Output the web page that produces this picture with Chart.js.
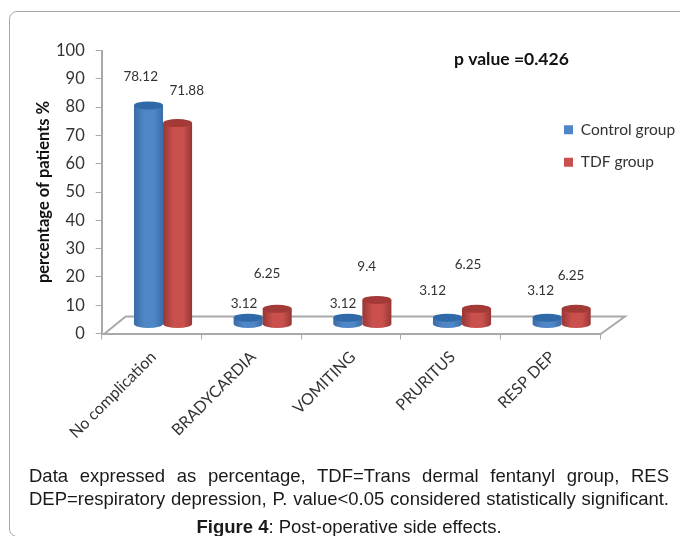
<!DOCTYPE html>
<html>
<head>
<meta charset="utf-8">
<script src="https://cdn.jsdelivr.net/npm/chart.js@4/dist/chart.umd.js"></script>
<style>
  html, body { margin: 0; padding: 0; background: #fff; overflow: hidden; }
  #wrap { position: relative; width: 680px; height: 536px; overflow: hidden; }
  #frame { position: absolute; left: 9px; top: 11px; width: 720px; height: 524px; border: 1px solid #a8a8a8; border-radius: 8px; }
  canvas { position: absolute; left: 0; top: 0; }
  .cap { position: absolute; left: 29px; width: 640px; font-family: "Liberation Sans", Arial, sans-serif; font-size: 18.5px; color: #1a1a1a; white-space: nowrap; }
  .just { text-align: justify; text-align-last: justify; white-space: normal; }
</style>
</head>
<body>
<div id="wrap">
  <div id="frame"></div>
  <canvas id="chart" width="680" height="536"></canvas>
  <div class="cap just" style="top:465px">Data expressed as percentage, TDF=Trans dermal fentanyl group, RES</div>
  <div class="cap just" style="top:488px">DEP=respiratory depression, P. value&lt;0.05 considered statistically significant.</div>
  <div class="cap" style="top:516px;text-align:center"><b>Figure 4</b>: Post-operative side effects.</div>
</div>
<script>
// data
const categories = ["No complication", "BRADYCARDIA", "VOMITING", "PRURITUS", "RESP DEP"];
const controlValues = [78.12, 3.12, 3.12, 3.12, 3.12];
const tdfValues = [71.88, 6.25, 9.4, 6.25, 6.25];
const seriesNames = ["Control group", "TDF group"];

// hand placed value labels in the original, offset from the top of each bar
const labelOffsets = [
  [[3.7, -35.5], [7.3, -21.5], [6.7, -21.5], [-3.3, -34.5], [5, -34.5]],
  [[20.7, -39], [1.3, -42.6], [1.4, -40.7], [3, -51.6], [6.3, -40.6]]
];

// bar colours: edge, middle, top cap
const barColors = [
  ["#3a6ca6", "#4f86c6", "#2f69a8"],
  ["#963735", "#c9504d", "#a33a37"]
];

const AXIS_GRAY = "#a9a9a9";
const TEXT_COLOR = "#333333";
const FONT = "Lato";

// fake 3d: bars sit on a floor behind the axis line
const SHIFT_X = 11.5, TOP_SHIFT = -7, BASE_SHIFT = -9, CAP_RY = 4;

function drawFloor(ctx, area) {
  ctx.save();
  ctx.strokeStyle = AXIS_GRAY;
  ctx.lineWidth = 2;
  ctx.beginPath();
  ctx.moveTo(area.left + 3, area.bottom);
  ctx.lineTo(area.left + 24, area.bottom - 17);
  ctx.lineTo(area.right + 25, area.bottom - 17);
  ctx.lineTo(area.right, area.bottom + 1);
  ctx.stroke();
  ctx.restore();
}

function drawCylinder(ctx, bar, colors) {
  const cx = bar.x + SHIFT_X;
  const rx = bar.width / 2;
  const top = bar.y + TOP_SHIFT;
  const base = bar.base + BASE_SHIFT;

  const grad = ctx.createLinearGradient(cx - rx, 0, cx + rx, 0);
  grad.addColorStop(0, colors[0]);
  grad.addColorStop(0.35, colors[1]);
  grad.addColorStop(0.7, colors[1]);
  grad.addColorStop(1, colors[0]);

  ctx.fillStyle = grad;
  ctx.beginPath();
  ctx.moveTo(cx - rx, top);
  ctx.lineTo(cx - rx, base);
  ctx.ellipse(cx, base, rx, CAP_RY, 0, Math.PI, 0, true);
  ctx.lineTo(cx + rx, top);
  ctx.closePath();
  ctx.fill();

  ctx.fillStyle = colors[2];
  ctx.beginPath();
  ctx.ellipse(cx, top, rx, CAP_RY, 0, 0, Math.PI * 2);
  ctx.fill();
}

// replaces the flat bars: floor first, then cylinders left to right so red overlaps blue
const cylinderPlugin = {
  id: "cylinders",
  beforeDatasetsDraw(chart) {
    const ctx = chart.ctx;
    drawFloor(ctx, chart.chartArea);
    categories.forEach((_, i) => {
      chart.data.datasets.forEach((ds, d) => {
        drawCylinder(ctx, chart.getDatasetMeta(d).data[i], barColors[d]);
      });
    });
    return false;
  },
  // afterDatasetsDraw does not fire once the hook above cancels, so labels go here
  afterDraw(chart) {
    const ctx = chart.ctx;
    ctx.save();
    ctx.fillStyle = TEXT_COLOR;
    ctx.textAlign = "center";
    ctx.textBaseline = "middle";
    ctx.font = `13.5px ${FONT}`;
    chart.data.datasets.forEach((ds, d) => {
      chart.getDatasetMeta(d).data.forEach((bar, i) => {
        const off = labelOffsets[d][i];
        ctx.fillText(String(ds.data[i]), bar.x + off[0], bar.y + off[1]);
      });
    });
    ctx.fillStyle = "#111";
    ctx.textAlign = "left";
    ctx.font = `bold 17.5px ${FONT}`;
    ctx.fillText("p value =0.426", 454, 59);
    ctx.restore();
  },
  // legend floats over the plot on the right, so move it by hand
  afterLayout(chart) {
    const lg = chart.legend;
    lg.left = 547;
    lg.right = 680;
    lg.width = 133;
    lg.top = 105;
    lg.bottom = 300;
    lg.height = 195;
  }
};

new Chart(document.getElementById("chart"), {
  type: "bar",
  data: {
    labels: categories,
    datasets: [
      { label: seriesNames[0], data: controlValues, backgroundColor: barColors[0][1] },
      { label: seriesNames[1], data: tdfValues, backgroundColor: barColors[1][1] }
    ]
  },
  options: {
    responsive: false,
    animation: false,
    layout: { padding: { left: 30, top: 50.5, right: 80, bottom: 0 } },
    datasets: { bar: { barPercentage: 1, categoryPercentage: 0.583 } },
    plugins: {
      legend: {
        position: "chartArea",
        align: "start",
        labels: {
          boxWidth: 9,
          boxHeight: 9,
          padding: 17,
          color: TEXT_COLOR,
          font: { family: FONT, size: 15.5 }
        }
      },
      tooltip: { enabled: false }
    },
    scales: {
      y: {
        min: 0,
        max: 100,
        ticks: { stepSize: 10, color: TEXT_COLOR, font: { family: FONT, size: 16.5 }, padding: 11 },
        grid: { drawOnChartArea: false, color: AXIS_GRAY, tickLength: 6 },
        border: { color: AXIS_GRAY, width: 2 },
        title: { display: true, text: "percentage of patients %", color: "#111", font: { family: FONT, size: 16.5, weight: "bold" } },
        afterFit(scale) { scale.width = 71.7; }
      },
      x: {
        ticks: { minRotation: 45, maxRotation: 45, color: TEXT_COLOR, font: { family: FONT, size: 16 }, labelOffset: 2, padding: 8 },
        grid: { drawOnChartArea: false, color: AXIS_GRAY, tickLength: 6 },
        border: { color: AXIS_GRAY, width: 2 },
        afterFit(scale) { scale.height = 202.5; }
      }
    }
  },
  plugins: [cylinderPlugin]
});
</script>
</body>
</html>
